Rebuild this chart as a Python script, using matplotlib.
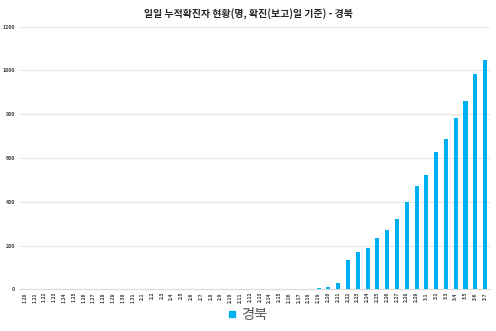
import matplotlib
matplotlib.use("Agg")
import matplotlib.pyplot as plt
from matplotlib.lines import Line2D

plt.rcParams['font.family'] = ['Noto Sans CJK KR', 'DejaVu Sans']

dates = ([f"1.{d}" for d in range(20, 32)] +
         [f"2.{d}" for d in range(1, 30)] +
         [f"3.{d}" for d in range(1, 8)])
values = ([0] * 12 +
          [0] * 18 +
          [4, 10, 27, 132, 172, 190, 233, 271, 323, 397, 472] +
          [521, 627, 686, 781, 862, 986, 1049])

title = "일일 누적확진자 현황(명, 확진(보고)일 기준) - 경북"
series_name = "경북"
color = "#00B0F0"

fig = plt.figure(figsize=(4.96, 3.31), dpi=100)
ax = fig.add_axes([20 / 496, 41.7 / 331, 470 / 496, 262.6 / 331])
x = list(range(len(dates)))
ax.bar(x, values, width=0.42, color=color, zorder=3)
ax.set_xlim(-0.5, len(dates) - 0.5)
ax.set_ylim(0, 1200)
ax.set_yticks(range(0, 1201, 200))
ax.yaxis.grid(True, color="#E6E6E6", linewidth=0.8, zorder=0)
for s in ax.spines.values():
    s.set_visible(False)
ax.spines['bottom'].set_visible(True)
ax.spines['bottom'].set_color("#D9D9D9")
ax.spines['bottom'].set_linewidth(0.8)
ax.tick_params(axis='y', length=0, labelsize=3.8, labelcolor="#404040", pad=3.5)
ax.tick_params(axis='x', length=0, labelsize=3.6, labelcolor="#404040", pad=2)
ax.set_xticks(x)
ax.set_xticklabels(dates, rotation=90, fontweight='bold')
for lbl in ax.get_yticklabels():
    lbl.set_fontweight('bold')

fig.text(0.5, 0.955, title, ha='center', va='center', fontsize=7.1,
         fontweight='bold', color="#262626")

handle = Line2D([], [], marker='s', linestyle='none', color=color, markersize=4)
fig.legend([handle], [series_name], loc='center', bbox_to_anchor=(0.497, 0.048),
           frameon=False, fontsize=10.3, handlelength=0.8, handletextpad=0.25,
           labelcolor="#595959")

fig.savefig("out.png", dpi=100, facecolor="white")
